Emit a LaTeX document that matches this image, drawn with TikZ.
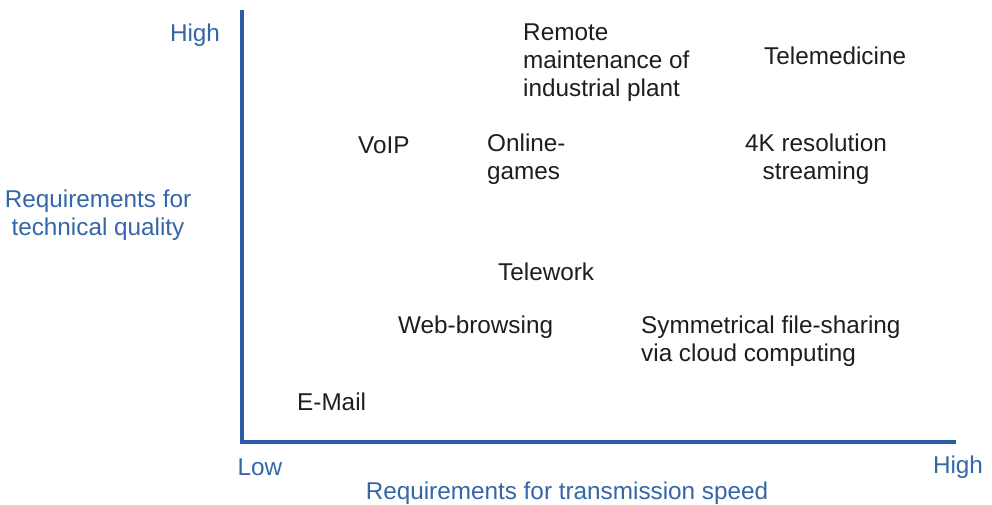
\documentclass[tikz,border=0pt]{standalone}
\usepackage{fontspec}
\setmainfont{Liberation Sans}
\definecolor{axisblue}{HTML}{2B5BA6}
\definecolor{labelblue}{HTML}{3566A8}
\definecolor{txt}{HTML}{1E1E1E}
\begin{document}
\begin{tikzpicture}[x=1pt,y=-1pt,
  item/.style={inner sep=0pt,text=txt,font=\fontsize{24.3}{28}\selectfont},
  axlabel/.style={inner sep=0pt,text=labelblue,font=\fontsize{24.3}{28}\selectfont},
  axisline/.style={draw=axisblue,line width=4pt}]
\useasboundingbox[fill=white] (0,0) rectangle (992,504);
\coordinate (top) at (242,10);
\coordinate (origin) at (242,442);
\coordinate (right) at (956,442);
\draw[axisline,line join=miter] (top) -- (origin) -- (right);
\node[axlabel] (yhigh) at (195,35) {High};
\node[axlabel,align=center] (ylab) at (98,215) {Requirements for\\technical quality};
\node[axlabel] (xlow) at (260,467) {Low};
\node[axlabel] (xhigh) at (958,467) {High};
\node[axlabel] (xlab) at (567,493) {Requirements for transmission speed};
\node[item,align=left,anchor=west] (remote) at (523,63) {Remote\\maintenance of\\industrial plant};
\node[item,anchor=west] (tele) at (764,56) {Telemedicine};
\node[item,anchor=west] (voip) at (358,145) {VoIP};
\node[item,align=left,anchor=west] (online) at (487,159) {Online-\\games};
\node[item,align=center] (fourk) at (816,159) {4K resolution\\streaming};
\node[item,anchor=west] (telework) at (498,272) {Telework};
\node[item,anchor=west] (web) at (398,327) {Web-browsing};
\node[item,align=left,anchor=west] (sym) at (641,341) {Symmetrical file-sharing\\via cloud computing};
\node[item,anchor=west] (email) at (297,402) {E-Mail};
\end{tikzpicture}
\end{document}
